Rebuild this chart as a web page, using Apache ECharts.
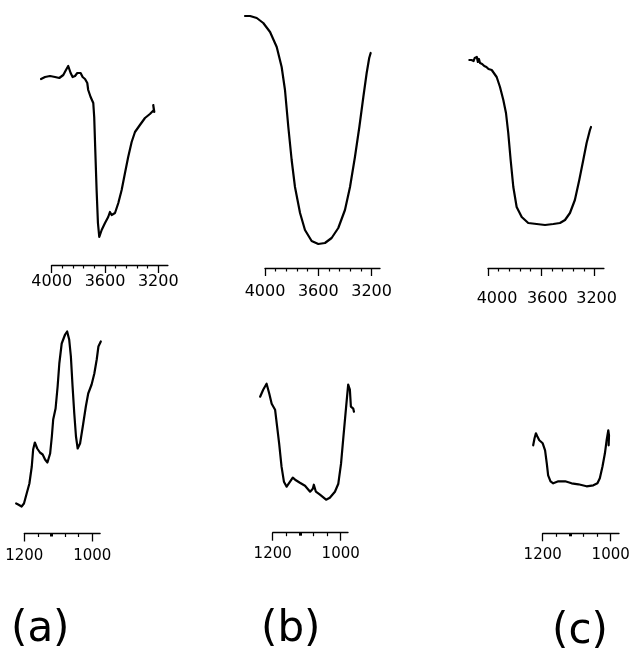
<!DOCTYPE html>
<html><head><meta charset="utf-8">
<script src="https://cdn.jsdelivr.net/npm/echarts@6/dist/echarts.min.js"></script>
<style>html,body{margin:0;padding:0;background:#fff}#c{width:634px;height:649px}</style>
</head><body><div id="c"></div><script>
// ---------- DATA (wavenumber, cm-1 ; signal, arbitrary units) ----------
const topMajorTicks = [4000, 3600, 3200];
const topMinorTicks = [3920, 3840, 3760, 3680, 3520, 3440, 3360, 3280];
const bottomMajorTicks = [1200, 1000];
const bottomMinorTicks = [1160, 1080, 1040];
const bottomMarkTicks = [1120];
const panelNames = ['(a)', '(b)', '(c)'];

// (a) OH region
const wnTopA = [4080,4050,4013,3975,3943,3913,3893,3876,3858,3843,3825,3808,3793,3783,3768,3750,3733,3726,3708,3688,3681,3673,3663,3653,3643,3625,3600,3576,3563,3550,3525,3500,3475,3450,3426,3400,3375,3338,3300,3263,3233,3238,3230];
const sigTopA = [186,188,189,188,187,190,195,199,192,188,189,192,190,192,188,186,182,175,168,162,148,115,75,42,28,35,42,48,53,50,52,62,75,92,108,123,133,140,147,151,155,160,153];
// (b) OH region
const wnTopB = [4150,4112,4062,4013,3962,3912,3875,3850,3825,3800,3775,3737,3700,3650,3600,3550,3500,3450,3400,3362,3325,3292,3262,3237,3218,3207];
const sigTopB = [252,252,250,245,236,221,201,178,141,108,81,55,38,27,24,25,30,40,58,81,111,141,171,195,210,215];
// (c) OH region
const wnTopC = [4140,4132,4124,4116,4108,4100,4092,4084,4076,4068,4060,4052,4044,4036,4028,4020,4012,4004,3996,3988,3972,3935,3910,3885,3865,3848,3830,3810,3785,3747,3698,3635,3572,3510,3460,3422,3385,3348,3315,3285,3260,3235,3227];
const sigTopC = [208,209,208,210,207,210,208,211,206,209,205,207,204,206,202,204,201,202,199,200,198,191,181,168,155,135,108,81,61,51,45,44,43,44,45,48,55,68,88,108,125,138,141];
// (a) Si-O region
const wnBotA = [1224,1218,1208,1201,1193,1185,1178,1174,1169,1162,1154,1146,1139,1132,1124,1119,1115,1108,1102,1097,1090,1080,1074,1068,1063,1058,1053,1048,1043,1036,1028,1019,1012,1002,994,987,982,975];
const sigBotA = [30,29,27,30,40,50,67,84,91,85,81,79,74,71,80,97,114,125,147,170,190,199,202,194,177,147,120,97,85,90,107,127,140,149,160,174,187,192];
// (b) Si-O region
const wnBotB = [1237,1228,1218,1210,1203,1193,1187,1181,1174,1167,1159,1149,1141,1134,1120,1105,1090,1082,1079,1073,1061,1043,1032,1017,1007,999,992,984,978,973,970,963,961];
const sigBotB = [136,143,149,139,129,123,106,89,66,51,46,51,55,53,50,47,41,44,48,41,38,33,35,41,49,69,96,126,148,143,126,124,121];
// (c) Si-O region
const wnBotC = [1228,1224,1220,1216,1210,1200,1193,1188,1184,1177,1169,1154,1134,1115,1095,1071,1051,1039,1032,1024,1017,1012,1007,1005,1006];
const sigBotC = [88,95,100,97,93,90,83,70,58,52,50,52,52,50,49,47,48,50,55,67,80,93,103,98,88];

// ---------- LAYOUT ----------
const FONT = 'DejaVu Sans';
const panels = [
  {wn: wnTopA, sig: sigTopA, left: 51.7, axisY: 265,   max: 4000, min: 3128,  scale: 53.3/400, h: 260, major: topMajorTicks, minor: topMinorTicks, mark: null, margin: 9,  fs: 16, shift: {}},
  {wn: wnTopB, sig: sigTopB, left: 265,  axisY: 268,   max: 4000, min: 3137,  scale: 53.3/400, h: 260, major: topMajorTicks, minor: topMinorTicks, mark: null, margin: 16, fs: 16, shift: {}},
  {wn: wnTopC, sig: sigTopC, left: 488,  axisY: 268,   max: 4000, min: 3130,  scale: 53.3/400, h: 260, major: topMajorTicks, minor: topMinorTicks, mark: null, margin: 23, fs: 16, shift: {4000: 9, 3600: 6, 3200: 2}},
  {wn: wnBotA, sig: sigBotA, left: 24.3, axisY: 533.5, max: 1200, min: 977,   scale: 68/200,   h: 210, major: bottomMajorTicks, minor: bottomMinorTicks, mark: bottomMarkTicks, margin: 15, fs: 15, shift: {}},
  {wn: wnBotB, sig: sigBotB, left: 272.7,axisY: 532.7, max: 1200, min: 978.5, scale: 68/200,   h: 210, major: bottomMajorTicks, minor: bottomMinorTicks, mark: bottomMarkTicks, margin: 14, fs: 15, shift: {}},
  {wn: wnBotC, sig: sigBotC, left: 542.7,axisY: 533.3, max: 1200, min: 975.6, scale: 68/200,   h: 210, major: bottomMajorTicks, minor: bottomMinorTicks, mark: bottomMarkTicks, margin: 14, fs: 15, shift: {}}
];
const captions = [{left: 11, top: 609}, {left: 261, top: 609}, {left: 552, top: 611}];

const grid = [], xAxis = [], yAxis = [], series = [];
panels.forEach((p) => {
  // axis grid (exact extent of the drawn axis)
  const gAxis = grid.length;
  grid.push({left: p.left, top: p.axisY - p.h, width: (p.max - p.min) * p.scale, height: p.h, containLabel: false, outerBoundsMode: 'none'});
  yAxis.push({type: 'value', gridIndex: gAxis, min: 0, max: p.h, show: false});
  const base = {type: 'value', gridIndex: gAxis, position: 'bottom', offset: 0, inverse: true, min: p.min, max: p.max, splitLine: {show: false}, minorTick: {show: false}};
  const rich = {};
  p.major.forEach((v, k) => {
    const s = p.shift[v] || 0;
    rich['t' + k] = {fontFamily: FONT, fontSize: p.fs, color: '#000', padding: s >= 0 ? [0, 0, 0, 2 * s] : [0, -2 * s, 0, 0]};
  });
  xAxis.push(Object.assign({}, base, {
    axisLine: {show: true, onZero: false, lineStyle: {color: '#000', width: 1.3}},
    axisTick: {show: true, customValues: p.major, length: 8, lineStyle: {color: '#000', width: 1.3}},
    axisLabel: {show: true, customValues: p.major, margin: p.margin, fontFamily: FONT, fontSize: p.fs, color: '#000',
      formatter: (v) => { const k = p.major.indexOf(Math.round(v)); return '{t' + k + '|' + Math.round(v) + '}'; }, rich: rich}
  }));
  xAxis.push(Object.assign({}, base, {
    axisLine: {show: false, onZero: false}, axisLabel: {show: false},
    axisTick: {show: true, customValues: p.minor, length: 3.5, lineStyle: {color: '#000', width: 1.2}}
  }));
  if (p.mark) {
    xAxis.push(Object.assign({}, base, {
      axisLine: {show: false, onZero: false}, axisLabel: {show: false},
      axisTick: {show: true, customValues: p.mark, length: 3, lineStyle: {color: '#000', width: 3}}
    }));
  }
  // data grid: same scale, wider extent so the trace can run past the axis ends
  const dMax = Math.max(...p.wn) + 10, dMin = Math.min(...p.wn) - 10;
  const gData = grid.length;
  grid.push({left: p.left - (dMax - p.max) * p.scale, top: p.axisY - p.h, width: (dMax - dMin) * p.scale, height: p.h, containLabel: false, outerBoundsMode: 'none'});
  const xi = xAxis.length;
  xAxis.push({type: 'value', gridIndex: gData, inverse: true, min: dMin, max: dMax, show: false});
  const yi = yAxis.length;
  yAxis.push({type: 'value', gridIndex: gData, min: 0, max: p.h, show: false});
  series.push({
    type: 'line', xAxisIndex: xi, yAxisIndex: yi, clip: false, silent: true,
    data: p.wn.map((x, k) => [x, p.sig[k]]),
    showSymbol: false, symbol: 'none',
    lineStyle: {color: '#000', width: 2.2, join: 'round', cap: 'round'}
  });
});

const title = panelNames.map((t, i) => ({
  text: t, left: captions[i].left, top: captions[i].top, padding: 0,
  textStyle: {fontFamily: FONT, fontSize: 42, fontWeight: 'normal', color: '#000'}
}));

const chart = echarts.init(document.getElementById('c'), null, {renderer: 'canvas'});
chart.setOption({animation: false, backgroundColor: '#fff', title, grid, xAxis, yAxis, series});
</script></body></html>
